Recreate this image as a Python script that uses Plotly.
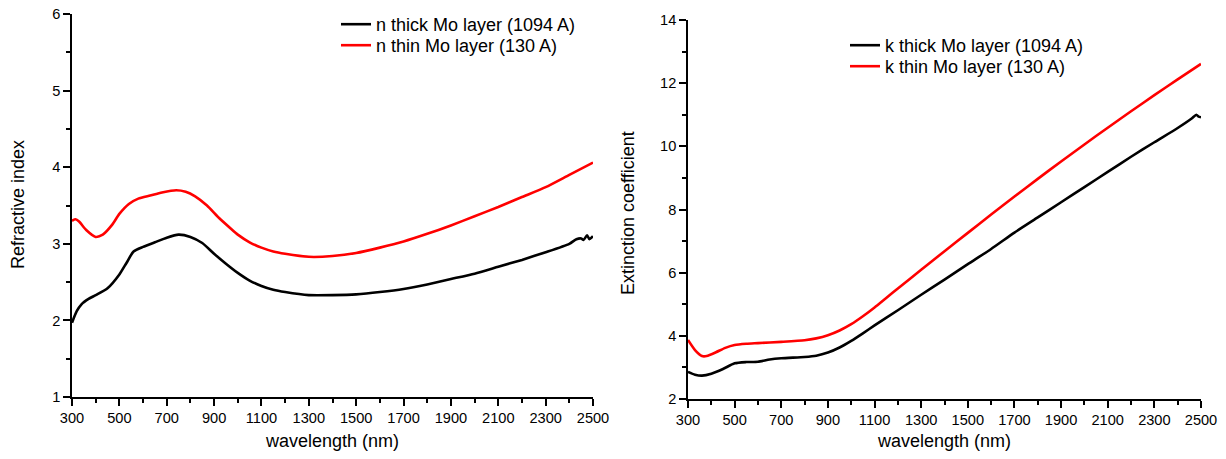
import plotly.graph_objects as go

# ---- data ----
wl_n_thick = [300, 320, 340, 370, 400, 450, 500, 530, 560, 600, 650, 700, 750, 800, 850, 900, 950,
              1000, 1050, 1100, 1150, 1200, 1300, 1400, 1500, 1600, 1700, 1800, 1900, 2000, 2100,
              2200, 2300, 2400, 2430, 2450, 2460, 2475, 2485, 2500]
n_thick = [1.97, 2.12, 2.21, 2.28, 2.33, 2.42, 2.60, 2.75, 2.90, 2.96, 3.02, 3.08, 3.12, 3.09, 3.01,
           2.87, 2.74, 2.62, 2.52, 2.45, 2.40, 2.37, 2.33, 2.33, 2.34, 2.37, 2.41, 2.47, 2.54, 2.61,
           2.70, 2.79, 2.89, 3.00, 3.06, 3.07, 3.05, 3.11, 3.06, 3.10]

wl_n_thin = [300, 315, 330, 360, 400, 430, 470, 500, 540, 580, 630, 680, 740, 780, 820, 870, 920,
             970, 1000, 1050, 1100, 1150, 1200, 1300, 1400, 1500, 1600, 1700, 1800, 1900, 2000,
             2100, 2200, 2300, 2400, 2500]
n_thin = [3.30, 3.32, 3.29, 3.18, 3.09, 3.12, 3.25, 3.39, 3.52, 3.59, 3.63, 3.67, 3.70, 3.68, 3.62,
          3.50, 3.34, 3.20, 3.12, 3.02, 2.95, 2.90, 2.87, 2.83, 2.84, 2.88, 2.95, 3.03, 3.13, 3.24,
          3.36, 3.48, 3.61, 3.74, 3.90, 4.06]

wl_k_thick = [300, 330, 360, 400, 450, 500, 550, 600, 650, 700, 800, 850, 900, 950, 1000, 1050,
              1100, 1200, 1300, 1400, 1500, 1600, 1700, 1800, 1900, 2000, 2100, 2200, 2300, 2400,
              2460, 2480, 2490, 2500]
k_thick = [2.86, 2.77, 2.74, 2.80, 2.95, 3.13, 3.17, 3.18, 3.25, 3.29, 3.33, 3.37, 3.47, 3.63, 3.84,
           4.08, 4.33, 4.81, 5.30, 5.78, 6.27, 6.75, 7.27, 7.75, 8.23, 8.71, 9.19, 9.67, 10.13,
           10.58, 10.88, 11.00, 10.94, 10.92]

wl_k_thin = [300, 330, 360, 380, 420, 460, 500, 550, 600, 700, 800, 850, 900, 950, 1000, 1050,
             1100, 1150, 1200, 1300, 1400, 1500, 1600, 1700, 1800, 1900, 2000, 2100, 2200, 2300,
             2400, 2500]
k_thin = [3.87, 3.55, 3.36, 3.36, 3.48, 3.62, 3.71, 3.75, 3.77, 3.81, 3.86, 3.92, 4.02, 4.17, 4.37,
          4.62, 4.90, 5.20, 5.50, 6.09, 6.68, 7.26, 7.84, 8.41, 8.97, 9.52, 10.06, 10.59, 11.11,
          11.62, 12.12, 12.61]

FONT = "Arial"
LW = 2.6

fig = go.Figure()
fig.add_trace(go.Scatter(x=wl_n_thick, y=n_thick, mode="lines", name="n thick Mo layer (1094 A)",
                         line=dict(color="black", width=LW, shape="spline", smoothing=0.6),
                         xaxis="x", yaxis="y", legend="legend", showlegend=True))
fig.add_trace(go.Scatter(x=wl_n_thin, y=n_thin, mode="lines", name="n thin Mo layer (130 A)",
                         line=dict(color="#ff0000", width=LW, shape="spline", smoothing=0.6),
                         xaxis="x", yaxis="y", legend="legend2", showlegend=True))
fig.add_trace(go.Scatter(x=wl_k_thick, y=k_thick, mode="lines", name="k thick Mo layer (1094 A)",
                         line=dict(color="black", width=LW, shape="spline", smoothing=0.6),
                         xaxis="x2", yaxis="y2", legend="legend3", showlegend=True))
fig.add_trace(go.Scatter(x=wl_k_thin, y=k_thin, mode="lines", name="k thin Mo layer (130 A)",
                         line=dict(color="#ff0000", width=LW, shape="spline", smoothing=0.6),
                         xaxis="x2", yaxis="y2", legend="legend4", showlegend=True))

W, H = 1226, 459
TICK_SIZE = 14.6
TITLE_SIZE = 18
LEG_SIZE = 18

def xax(domain, anchor):
    return dict(domain=domain, anchor=anchor, range=[300, 2500], tick0=300, dtick=200,
                showline=True, linecolor="black", linewidth=1.5, mirror=False,
                ticks="outside", ticklen=7, tickwidth=1.5, tickcolor="black",
                minor=dict(tick0=300, dtick=100, ticks="outside", ticklen=4, tickwidth=1.5,
                           tickcolor="black"),
                showgrid=False, zeroline=False, automargin=False,
                tickfont=dict(family=FONT, size=TICK_SIZE, color="black"))

def yax(domain, anchor, rng, dt):
    return dict(domain=domain, anchor=anchor, range=rng, dtick=dt,
                showline=True, linecolor="black", linewidth=1.5, mirror=False,
                ticks="outside", ticklen=7, tickwidth=1.5, tickcolor="black",
                minor=dict(dtick=dt / 2, ticks="outside", ticklen=4, tickwidth=1.5,
                           tickcolor="black"),
                showgrid=False, zeroline=False, automargin=False,
                tickfont=dict(family=FONT, size=TICK_SIZE, color="black"))

def ann(text, x, y, angle=0):
    return dict(text=text, x=x / W, y=1 - y / H, xref="paper", yref="paper",
                xanchor="center", yanchor="middle", showarrow=False, textangle=angle,
                font=dict(family=FONT, size=TITLE_SIZE, color="black"))

def leg(x, top):
    return dict(x=x / W, y=1 - top / H, xanchor="left", yanchor="top", visible=True,
                bgcolor="rgba(0,0,0,0)", borderwidth=0,
                font=dict(family=FONT, size=LEG_SIZE, color="black"))

fig.update_layout(
    width=W, height=H, autosize=False, showlegend=True,
    margin=dict(l=0, r=0, t=0, b=0),
    paper_bgcolor="white", plot_bgcolor="white",
    font=dict(family=FONT, size=14, color="black"),
    xaxis=xax([72 / W, 593 / W], "y"),
    yaxis=yax([1 - 397 / H, 1 - 14 / H], "x", [1, 6], 1),
    xaxis2=xax([688 / W, 1201 / W], "y2"),
    yaxis2=yax([1 - 399 / H, 1 - 20 / H], "x2", [2, 14], 2),
    legend=leg(336, 6),
    legend2=leg(336, 27),
    legend3=leg(845, 27),
    legend4=leg(845, 48),
    annotations=[
        ann("wavelength (nm)", 332, 441),
        ann("wavelength (nm)", 944, 441),
        ann("Refractive index", 18, 205, -90),
        ann("Extinction coefficient", 628, 213, -90),
    ],
)

fig.write_html("out.html")
